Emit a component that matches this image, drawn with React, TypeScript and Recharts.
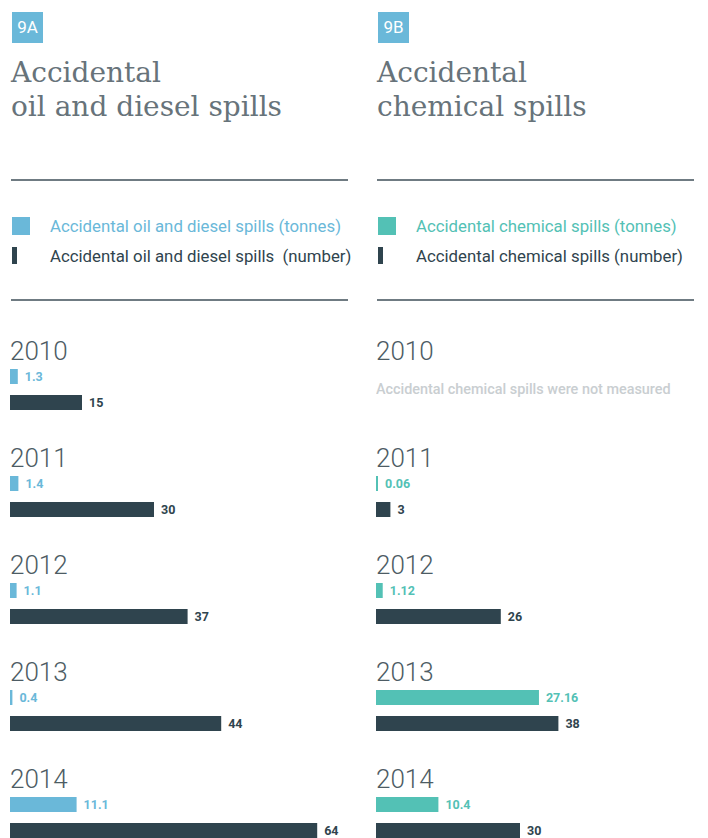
import { Bar, BarChart, LabelList, XAxis, YAxis } from "recharts";

// years shown in both panels
const years = ["2010", "2011", "2012", "2013", "2014"];

// 9A oil and diesel spills
const oilTonnes = [1.3, 1.4, 1.1, 0.4, 11.1];
const oilNumber = [15, 30, 37, 44, 64];

// 9B chemical spills (not measured in 2010)
const chemTonnes = [null, 0.06, 1.12, 27.16, 10.4];
const chemNumber = [null, 3, 26, 38, 30];

const notMeasured = "Accidental chemical spills were not measured";

const DARK = "#2f444e";
const BLUE = "#6ab8d9";
const TEAL = "#53c1b5";
const GREY = "#6f7b82";
const LABEL_FONT = "Roboto, sans-serif";

const toRows = (tonnes: (number | null)[], number: (number | null)[]) =>
  years.map((year, i) => ({ year, tonnes: tonnes[i], number: number[i] }));

const valueLabel = (color: string) => (props: any) => {
  const { x, y, width, height, value } = props;
  if (value == null) return null;
  return (
    <text
      x={x + width + 7}
      y={y + height / 2}
      dominantBaseline="central"
      fill={color}
      fontFamily={LABEL_FONT}
      fontWeight={700}
      fontSize={12.5}
    >
      {value}
    </text>
  );
};

const YearTick = (props: any) => {
  const { y, payload, rows } = props;
  const row = rows.find((r: any) => r.year === payload.value);
  return (
    <g>
      <text
        x={0}
        y={y - 30}
        fill="#4d5c64"
        fontFamily={LABEL_FONT}
        fontWeight={300}
        fontSize={26}
      >
        {payload.value}
      </text>
      {row && row.tonnes == null && (
        <text
          x={0}
          y={y}
          dominantBaseline="central"
          fill="#c9ced1"
          fontFamily={LABEL_FONT}
          fontWeight={500}
          fontSize={14.4}
        >
          {notMeasured}
        </text>
      )}
    </g>
  );
};

type PanelProps = {
  left: number;
  rule: number;
  badge: string;
  title: string[];
  color: string;
  legendTonnes: string;
  legendNumber: string;
  rows: { year: string; tonnes: number | null; number: number | null }[];
};

const Panel = ({ left, rule, badge, title, color, legendTonnes, legendNumber, rows }: PanelProps) => (
  <>
    <div
      style={{
        position: "absolute",
        left: left + 2,
        top: 12,
        width: 31,
        height: 31,
        background: BLUE,
        color: "#fff",
        fontFamily: LABEL_FONT,
        fontSize: 17,
        lineHeight: "31px",
        textAlign: "center",
      }}
    >
      {badge}
    </div>
    <div
      style={{
        position: "absolute",
        left: left + 1,
        top: 56,
        fontFamily: "'DejaVu Serif', serif",
        fontWeight: 300,
        fontSize: 28,
        lineHeight: "34px",
        color: "#67737a",
        whiteSpace: "nowrap",
      }}
    >
      {title.map((t) => (
        <div key={t}>{t}</div>
      ))}
    </div>
    <div style={{ position: "absolute", left: left + 1, top: 179, width: rule, height: 2, background: GREY }} />
    <div style={{ position: "absolute", left: left + 2, top: 217, width: 18, height: 18, background: color }} />
    <div
      style={{
        position: "absolute",
        left: left + 40,
        top: 215,
        fontFamily: LABEL_FONT,
        fontSize: 16.8,
        lineHeight: "22px",
        color,
        whiteSpace: "pre",
      }}
    >
      {legendTonnes}
    </div>
    <div style={{ position: "absolute", left: left + 2, top: 247, width: 5, height: 17, background: DARK }} />
    <div
      style={{
        position: "absolute",
        left: left + 40,
        top: 245,
        fontFamily: LABEL_FONT,
        fontSize: 16.8,
        lineHeight: "22px",
        color: DARK,
        whiteSpace: "pre",
      }}
    >
      {legendNumber}
    </div>
    <div style={{ position: "absolute", left: left + 1, top: 299, width: rule, height: 2, background: GREY }} />
    <div style={{ position: "absolute", left, top: 336 }}>
      <BarChart
        width={336}
        height={535}
        data={rows}
        layout="vertical"
        margin={{ top: 0, right: 0, bottom: 0, left: -40 }}
        barGap={11}
      >
        <XAxis xAxisId="t" type="number" domain={[0, 56]} hide />
        <XAxis xAxisId="n" type="number" domain={[0, 70]} hide />
        <YAxis
          type="category"
          dataKey="year"
          width={40}
          axisLine={false}
          tickLine={false}
          interval={0}
          tick={<YearTick rows={rows} />}
        />
        <Bar
          xAxisId="t"
          dataKey="tonnes"
          fill={color}
          barSize={15}
          minPointSize={2}
          isAnimationActive={false}
        >
          <LabelList dataKey="tonnes" content={valueLabel(color)} />
        </Bar>
        <Bar xAxisId="n" dataKey="number" fill={DARK} barSize={15} isAnimationActive={false}>
          <LabelList dataKey="number" content={valueLabel(DARK)} />
        </Bar>
      </BarChart>
    </div>
  </>
);

export default function App() {
  return (
    <div
      style={{
        position: "absolute",
        left: 0,
        top: 0,
        width: 708,
        height: 838,
        overflow: "hidden",
        background: "#fff",
      }}
    >
      <Panel
        left={10}
        rule={337}
        badge="9A"
        title={["Accidental", "oil and diesel spills"]}
        color={BLUE}
        legendTonnes="Accidental oil and diesel spills (tonnes)"
        legendNumber="Accidental oil and diesel spills  (number)"
        rows={toRows(oilTonnes, oilNumber)}
      />
      <Panel
        left={376}
        rule={317}
        badge="9B"
        title={["Accidental", "chemical spills"]}
        color={TEAL}
        legendTonnes="Accidental chemical spills (tonnes)"
        legendNumber="Accidental chemical spills (number)"
        rows={toRows(chemTonnes, chemNumber)}
      />
    </div>
  );
}
